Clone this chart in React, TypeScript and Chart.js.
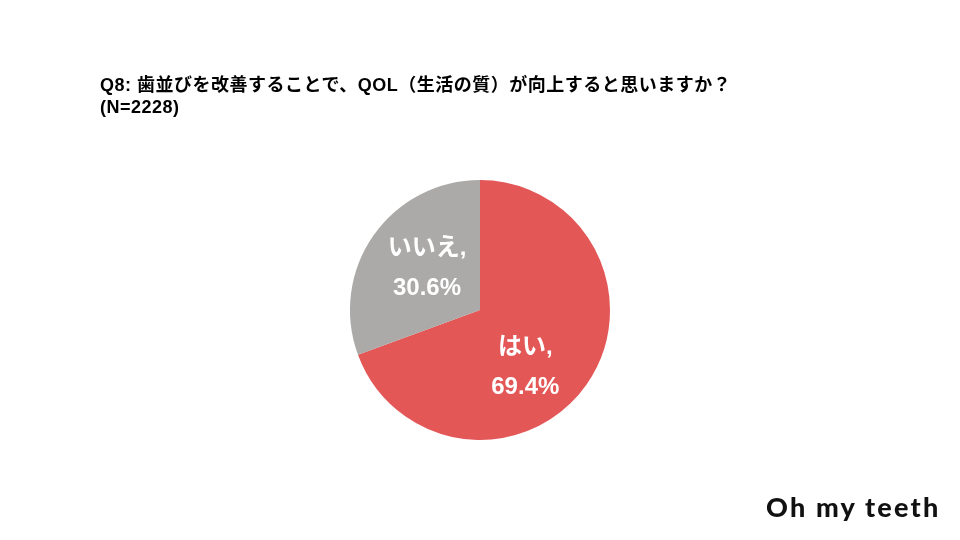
import React, { useEffect, useRef } from "react";
import { Chart, registerables } from "chart.js";

Chart.register(...registerables);

const categories = ["はい", "いいえ"];
const percentages = [69.4, 30.6];
const sliceColors = ["#E35757", "#ABAAA9"];
const titleLines = [
  "Q8: 歯並びを改善することで、QOL（生活の質）が向上すると思いますか？",
  "(N=2228)",
];
const logoText = "Oh my teeth";

const labelAngleShift = [17, 3.5];
const labelRadiusFrac = [0.565, 0.52];

const sliceLabelPlugin = {
  id: "sliceLabels",
  afterDatasetsDraw(chart: any) {
    const ctx = chart.ctx;
    const meta = chart.getDatasetMeta(0);
    ctx.save();
    ctx.fillStyle = "#ffffff";
    ctx.textAlign = "center";
    ctx.textBaseline = "middle";
    ctx.font = 'bold 24px "Liberation Sans", "Noto Sans CJK JP", sans-serif';
    meta.data.forEach((arc: any, i: number) => {
      const p = arc.getProps(["x", "y", "startAngle", "endAngle", "outerRadius"], true);
      const mid = (p.startAngle + p.endAngle) / 2 + (labelAngleShift[i] * Math.PI) / 180;
      const r = p.outerRadius * labelRadiusFrac[i];
      const cx = p.x + Math.cos(mid) * r;
      const cy = p.y + Math.sin(mid) * r;
      ctx.fillText(categories[i] + ",", cx, cy - 20);
      ctx.fillText(percentages[i].toFixed(1) + "%", cx, cy + 20);
    });
    ctx.restore();
  },
};

export default function App() {
  const canvasRef = useRef<HTMLCanvasElement | null>(null);

  useEffect(() => {
    if (!canvasRef.current) return;
    const chart = new Chart(canvasRef.current, {
      type: "pie",
      data: {
        labels: categories,
        datasets: [
          {
            data: percentages,
            backgroundColor: sliceColors,
            borderWidth: 0,
          },
        ],
      },
      options: {
        responsive: false,
        animation: false,
        layout: { padding: { top: 180, bottom: 100, left: 0, right: 0 } },
        plugins: {
          legend: { display: false },
          tooltip: { enabled: false },
          title: { display: false },
        },
      },
      plugins: [sliceLabelPlugin],
    });
    return () => chart.destroy();
  }, []);

  return (
    <div
      style={{
        position: "fixed",
        left: 0,
        top: 0,
        width: 960,
        height: 540,
        background: "#ffffff",
        overflow: "hidden",
      }}
    >
      <canvas ref={canvasRef} width={960} height={540} style={{ position: "absolute", left: 0, top: 0 }} />
      <div
        style={{
          position: "absolute",
          left: 100,
          top: 74,
          fontFamily: '"Liberation Sans", "Noto Sans CJK JP", sans-serif',
          fontWeight: "bold",
          fontSize: 18,
          lineHeight: "22px",
          letterSpacing: 0.5,
          color: "#000",
          whiteSpace: "nowrap",
        }}
      >
        {titleLines.map((t, i) => (
          <div key={i}>{t}</div>
        ))}
      </div>
      <div
        style={{
          position: "absolute",
          left: 766,
          top: 490,
          fontFamily: 'Lato, "Noto Sans", sans-serif',
          fontWeight: 900,
          fontSize: 27,
          lineHeight: "34px",
          letterSpacing: 2.2,
          color: "#111",
          whiteSpace: "nowrap",
        }}
      >
        {logoText}
      </div>
    </div>
  );
}
